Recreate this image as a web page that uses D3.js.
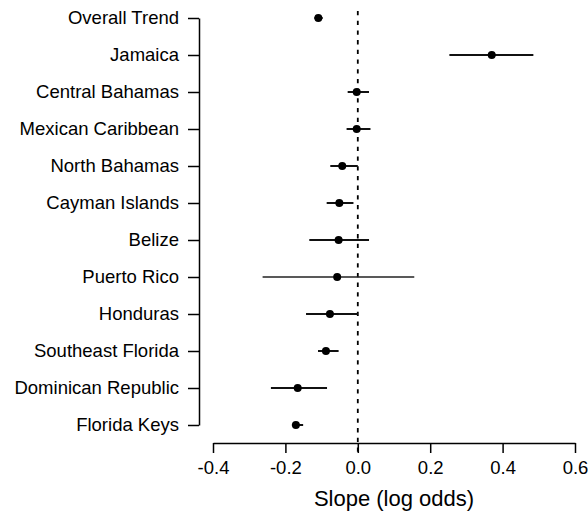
<!DOCTYPE html>
<html>
<head>
<meta charset="utf-8">
<script src="https://cdn.jsdelivr.net/npm/d3@7"></script>
<style>
  body { margin: 0; background: #fff; }
  text { font-family: "Liberation Sans", Arial, sans-serif; fill: #000; }
</style>
</head>
<body>
<div id="chart"></div>
<script>
// Slope estimates per region with 95% intervals
const regions = ["Overall Trend", "Jamaica", "Central Bahamas", "Mexican Caribbean",
  "North Bahamas", "Cayman Islands", "Belize", "Puerto Rico", "Honduras",
  "Southeast Florida", "Dominican Republic", "Florida Keys"];
const slopes = [-0.109, 0.370, -0.003, -0.003, -0.043, -0.051, -0.053, -0.057, -0.077, -0.088, -0.166, -0.171];
const lower  = [-0.120, 0.253, -0.028, -0.031, -0.076, -0.086, -0.134, -0.263, -0.143, -0.110, -0.240, -0.182];
const upper  = [-0.097, 0.485,  0.031,  0.035,  0.000, -0.012,  0.031,  0.156,  0.000, -0.053, -0.085, -0.151];
const xTicks = [-0.4, -0.2, 0.0, 0.2, 0.4, 0.6];

const width = 588;
const height = 517;

const svg = d3.select("#chart")
  .append("svg")
  .attr("width", width)
  .attr("height", height);

// scales
const x = d3.scaleLinear().domain([-0.4, 0.6]).range([213, 575]);
const y = d3.scalePoint().domain(regions).range([18, 425]);

// x axis
const xAxis = svg.append("g")
  .attr("transform", "translate(0,443)")
  .call(d3.axisBottom(x)
    .tickValues(xTicks)
    .tickFormat(d => d.toFixed(1))
    .tickSize(10)
    .tickSizeOuter(0)
    .tickPadding(8));
xAxis.select(".domain").attr("stroke-width", 1.5);
xAxis.selectAll(".tick line").attr("stroke-width", 1.5);
xAxis.selectAll(".tick text").attr("font-size", "18.5px").attr("fill", "#000");

// y axis
const yAxis = svg.append("g")
  .attr("transform", "translate(199,0)")
  .call(d3.axisLeft(y)
    .tickSize(11)
    .tickSizeOuter(0)
    .tickPadding(9));
yAxis.select(".domain").attr("stroke-width", 1.5);
yAxis.selectAll(".tick line").attr("stroke-width", 1.5);
yAxis.selectAll(".tick text").attr("font-size", "18.5px").attr("fill", "#000");

// axis title
svg.append("text")
  .attr("x", (x(-0.4) + x(0.6)) / 2)
  .attr("y", 506)
  .attr("text-anchor", "middle")
  .attr("font-size", "22px")
  .text("Slope (log odds)");

// zero reference line
svg.append("line")
  .attr("x1", x(0)).attr("x2", x(0))
  .attr("y1", 11).attr("y2", 455)
  .attr("stroke", "#000")
  .attr("stroke-width", 1.8)
  .attr("stroke-dasharray", "4.3,5.4");

// interval lines
svg.selectAll(".ci")
  .data(regions)
  .enter()
  .append("line")
    .attr("class", "ci")
    .attr("x1", (d, i) => x(lower[i]))
    .attr("x2", (d, i) => x(upper[i]))
    .attr("y1", d => y(d))
    .attr("y2", d => y(d))
    .attr("stroke", (d, i) => (upper[i] - lower[i]) > 0.3 ? "#222" : "#111")
    .attr("stroke-width", (d, i) => (upper[i] - lower[i]) > 0.3 ? 1.3 : 2);

// point estimates
svg.selectAll(".pt")
  .data(regions)
  .enter()
  .append("circle")
    .attr("class", "pt")
    .attr("cx", (d, i) => x(slopes[i]))
    .attr("cy", d => y(d))
    .attr("r", 4)
    .attr("fill", "#000");
</script>
</body>
</html>
